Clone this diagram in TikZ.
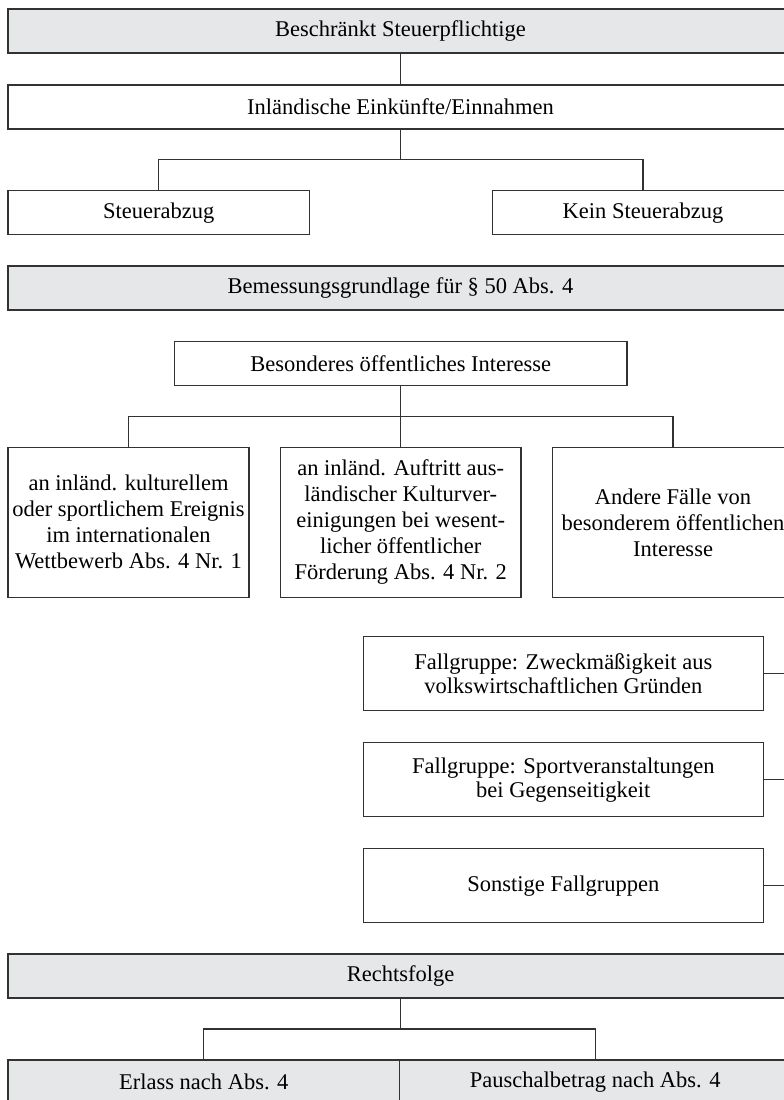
\documentclass[tikz,border=0pt]{standalone}
\usepackage{fontspec}
\setmainfont{Liberation Serif}
\definecolor{boxgray}{RGB}{230,231,233}
\definecolor{linegray}{RGB}{50,50,50}
\begin{document}
\begin{tikzpicture}[x=1pt,y=1pt,
  box/.style={draw=linegray, line width=1.1pt, fill=white, rectangle, inner sep=0pt,
    align=center, font=\fontsize{22.5}{26}\selectfont},
  graybox/.style={box, fill=boxgray},
  conn/.style={draw=linegray, line width=1.1pt}]
\useasboundingbox (0,0) rectangle (784,-1100);
\clip (0,0) rectangle (784,-1100);
\fill[white] (0,0) rectangle (784,-1100);

% Level 1
\node[graybox, minimum width=785pt, minimum height=44pt] (top) at (400.5,-31) {Beschränkt Steuerpflichtige};
\node[box, minimum width=785pt, minimum height=44pt] (inl) at (400.5,-107) {Inländische Einkünfte/Einnahmen};
\node[box, minimum width=301.5pt, minimum height=44pt] (st) at (158.75,-212.7) {Steuerabzug};
\node[box, minimum width=301pt, minimum height=44pt] (kst) at (643,-212.7) {Kein Steuerabzug};

% Level 2
\node[graybox, minimum width=785pt, minimum height=44pt] (bem) at (400.5,-288) {Bemessungsgrundlage für § 50 Abs. 4};
\node[box, minimum width=452.5pt, minimum height=44pt] (bes) at (400.75,-363.7) {Besonderes öffentliches Interesse};
\node[box, minimum width=241pt, minimum height=150pt] (a) at (128.5,-522.3) {an inländ. kulturellem\\oder sportlichem Ereignis\\im internationalen\\Wettbewerb Abs. 4 Nr. 1};
\node[box, minimum width=240.5pt, minimum height=150pt] (b) at (400.75,-522.3) {an inländ. Auftritt aus-\\ländischer Kulturver-\\einigungen bei wesent-\\licher öffentlicher\\Förderung Abs. 4 Nr. 2};
\node[box, minimum width=241pt, minimum height=150pt] (c) at (673,-522.3) {Andere Fälle von\\besonderem öffentlichen\\Interesse};

% Fallgruppen
\node[box, minimum width=400pt, minimum height=74pt, font=\fontsize{22.5}{24}\selectfont] (f1) at (563.3,-673.7) {Fallgruppe: Zweckmäßigkeit aus\\volkswirtschaftlichen Gründen};
\node[box, minimum width=400pt, minimum height=74pt, font=\fontsize{22.5}{24}\selectfont] (f2) at (563.3,-779.7) {Fallgruppe: Sportveranstaltungen\\bei Gegenseitigkeit};
\node[box, minimum width=400pt, minimum height=74pt] (f3) at (563.3,-885.7) {Sonstige Fallgruppen};

% Rechtsfolge
\node[graybox, minimum width=785pt, minimum height=44pt] (rf) at (400.5,-976) {Rechtsfolge};
\node[graybox, minimum width=391.5pt, minimum height=44pt] (er) at (203.75,-1082) {Erlass nach Abs. 4};
\node[graybox, minimum width=391.5pt, minimum height=44pt] (pa) at (595.25,-1082) {Pauschalbetrag nach Abs. 4};

% connectors
\draw[conn] (top.south) -- (inl.north);
\coordinate (j1) at (400.5,-159.3);
\draw[conn] (inl.south) -- (j1);
\draw[conn] (st.north) |- (j1) -| (kst.north);

\coordinate (j2) at (400.75,-416.7);
\draw[conn] (bes.south) -- (j2);
\draw[conn] (a.north) |- (j2) -| (c.north);
\draw[conn] (j2) -- (b.north);

\coordinate (e1) at (800,-673.7);
\coordinate (e2) at (800,-779.7);
\coordinate (e3) at (800,-885.7);
\draw[conn] (f1.east) -- (e1);
\draw[conn] (f2.east) -- (e2);
\draw[conn] (f3.east) -- (e3);

\coordinate (j3) at (400.5,-1029);
\draw[conn] (rf.south) -- (j3);
\draw[conn] (er.north) |- (j3) -| (pa.north);
\end{tikzpicture}
\end{document}
